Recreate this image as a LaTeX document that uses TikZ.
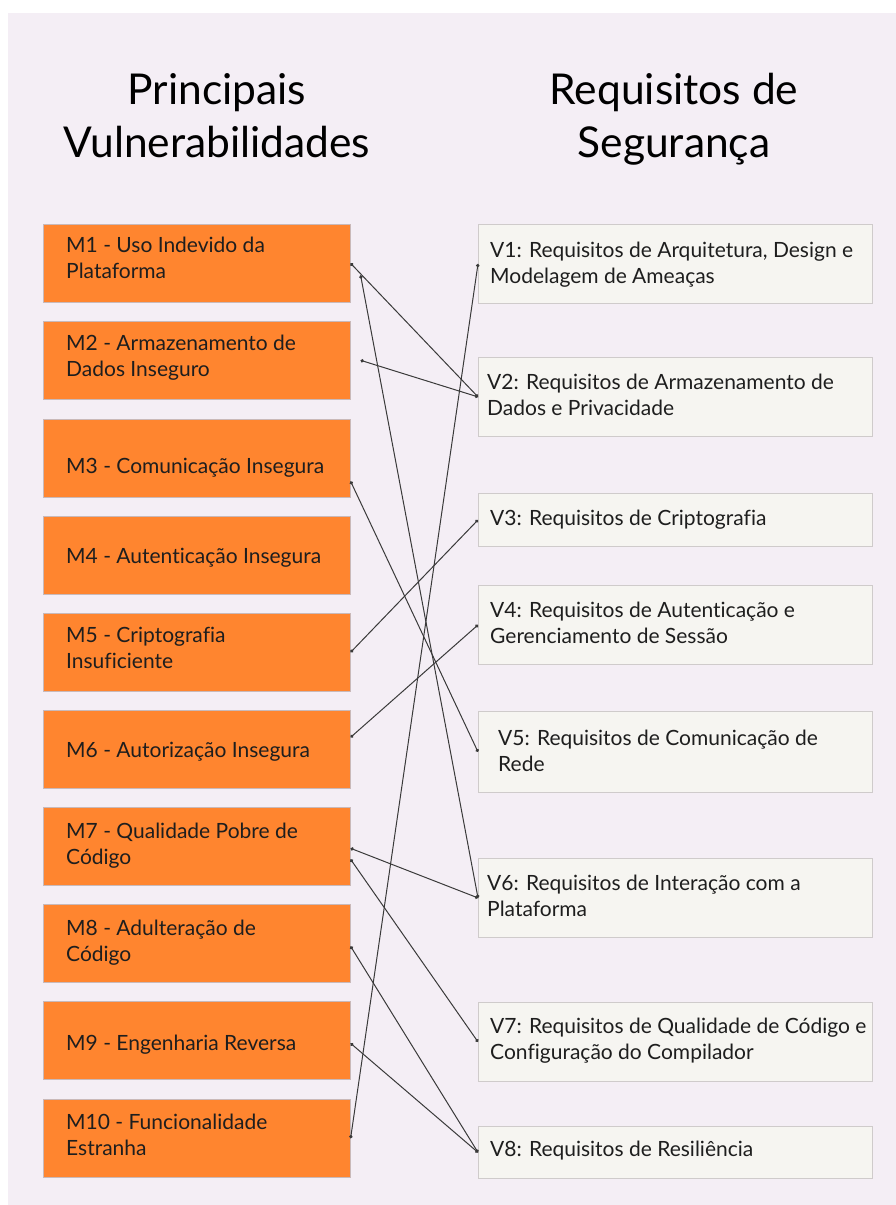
\documentclass[tikz,border=0pt]{standalone}
\usepackage{fontspec}
\setmainfont{Lato}[Ligatures=NoCommon]
\usetikzlibrary{arrows.meta,calc}
\definecolor{bgc}{HTML}{F4EEF5}
\definecolor{orng}{HTML}{FF852F}
\definecolor{obord}{HTML}{C9B9B9}
\definecolor{vfill}{HTML}{F6F5F1}
\definecolor{vbord}{HTML}{CFCBCB}
\definecolor{txt}{HTML}{1E1E1E}
\definecolor{lnc}{HTML}{3A3A3A}
\begin{document}
\begin{tikzpicture}[x=1pt,y=-1pt,
  mbox/.style={draw=obord,line width=0.6pt,fill=orng,minimum width=307pt,minimum height=78pt,anchor=north west,inner sep=0pt},
  vbox/.style={draw=vbord,line width=0.8pt,fill=vfill,minimum width=394pt,anchor=north west,inner sep=0pt},
  btxt/.style={anchor=base west,align=left,inner sep=0pt,text=txt,font=\fontsize{21}{26}\selectfont},
  ttl/.style={anchor=base,align=center,inner sep=0pt,text=black,font=\fontsize{42.5}{53}\selectfont},
  conn/.style={draw=lnc,line width=1pt,{Circle[length=3.4pt]}-{Circle[length=3.4pt]}}]
\useasboundingbox (0,0) rectangle (896,1205);
\fill[white] (0,0) rectangle (896,1205);
\fill[bgc] (8,13) rectangle (896,1205);
% titles (anchor at the last line's baseline)
\node[ttl] (t1) at (217,157) {Principais\\Vulnerabilidades};
\node[ttl] (t2) at (674,157) {Requisitos de\\Segurança};
% left boxes
\node[mbox] (m1) at (43,224) {};
\node[mbox] (m2) at (43,321) {};
\node[mbox] (m3) at (43,419) {};
\node[mbox] (m4) at (43,516) {};
\node[mbox] (m5) at (43,613) {};
\node[mbox] (m6) at (43,710) {};
\node[mbox] (m7) at (43,807) {};
\node[mbox] (m8) at (43,904) {};
\node[mbox] (m9) at (43,1001) {};
\node[mbox] (m10) at (43,1099) {};
\node[btxt] (m1t) at (66,278) {M1 - Uso Indevido da\\Plataforma};
\node[btxt] (m2t) at (66,376) {M2 - Armazenamento de\\Dados Inseguro};
\node[btxt] (m3t) at (66,473) {M3 - Comunicação Insegura};
\node[btxt] (m4t) at (66,563) {M4 - Autenticação Insegura};
\node[btxt] (m5t) at (66,668) {M5 - Criptografia\\Insuficiente};
\node[btxt] (m6t) at (66,757) {M6 - Autorização Insegura};
\node[btxt] (m7t) at (66,864) {M7 - Qualidade Pobre de\\Código};
\node[btxt] (m8t) at (66,961) {M8 - Adulteração de\\Código};
\node[btxt] (m9t) at (66,1050) {M9 - Engenharia Reversa};
\node[btxt] (m10t) at (66,1155) {M10 - Funcionalidade\\Estranha};
% right boxes
\node[vbox,minimum height=79pt] (v1) at (478,224) {};
\node[vbox,minimum height=79pt] (v2) at (478,357) {};
\node[vbox,minimum height=53pt] (v3) at (478,493) {};
\node[vbox,minimum height=79pt] (v4) at (478,585) {};
\node[vbox,minimum height=81pt] (v5) at (478,711) {};
\node[vbox,minimum height=79pt] (v6) at (478,858) {};
\node[vbox,minimum height=79pt] (v7) at (478,1002) {};
\node[vbox,minimum height=52pt] (v8) at (478,1126) {};
\node[btxt] (v1t) at (490,283) {V1: Requisitos de Arquitetura, Design e\\Modelagem de Ameaças};
\node[btxt] (v2t) at (487,415) {V2: Requisitos de Armazenamento de\\Dados e Privacidade};
\node[btxt] (v3t) at (490,525) {V3: Requisitos de Criptografia};
\node[btxt] (v4t) at (490,643) {V4: Requisitos de Autenticação e\\Gerenciamento de Sessão};
\node[btxt] (v5t) at (498,771) {V5: Requisitos de Comunicação de\\Rede};
\node[btxt] (v6t) at (487,916) {V6: Requisitos de Interação com a\\Plataforma};
\node[btxt] (v7t) at (490,1059) {V7: Requisitos de Qualidade de Código e\\Configuração do Compilador};
\node[btxt] (v8t) at (490,1156) {V8: Requisitos de Resiliência};
% connector end points
\coordinate (m1b) at ($(m1.east)+(10,12)$);
\coordinate (m2b) at ($(m2.east)+(10,0)$);
\coordinate (m3b) at ($(m3.east)+(0,23)$);
\coordinate (m6b) at ($(m6.east)+(0,-12)$);
\coordinate (m7a) at ($(m7.east)+(0,2)$);
\coordinate (m7b) at ($(m7.east)+(0,13)$);
\coordinate (m8b) at ($(m8.east)+(0,3)$);
\coordinate (m9b) at ($(m9.east)+(0,3)$);
% connectors
\draw[conn] (m1.east) -- (v2.west);
\draw[conn] (m1b) -- (v6.west);
\draw[conn] (m2b) -- (v2.west);
\draw[conn] (v1.west) -- (m10.east);
\draw[conn] (m3b) -- (v5.west);
\draw[conn] (v3.west) -- (m5.east);
\draw[conn] (v4.west) -- (m6b);
\draw[conn] (m7a) -- (v6.west);
\draw[conn] (m7b) -- (v7.west);
\draw[conn] (m8b) -- (v8.west);
\draw[conn] (m9b) -- (v8.west);
\end{tikzpicture}
\end{document}
